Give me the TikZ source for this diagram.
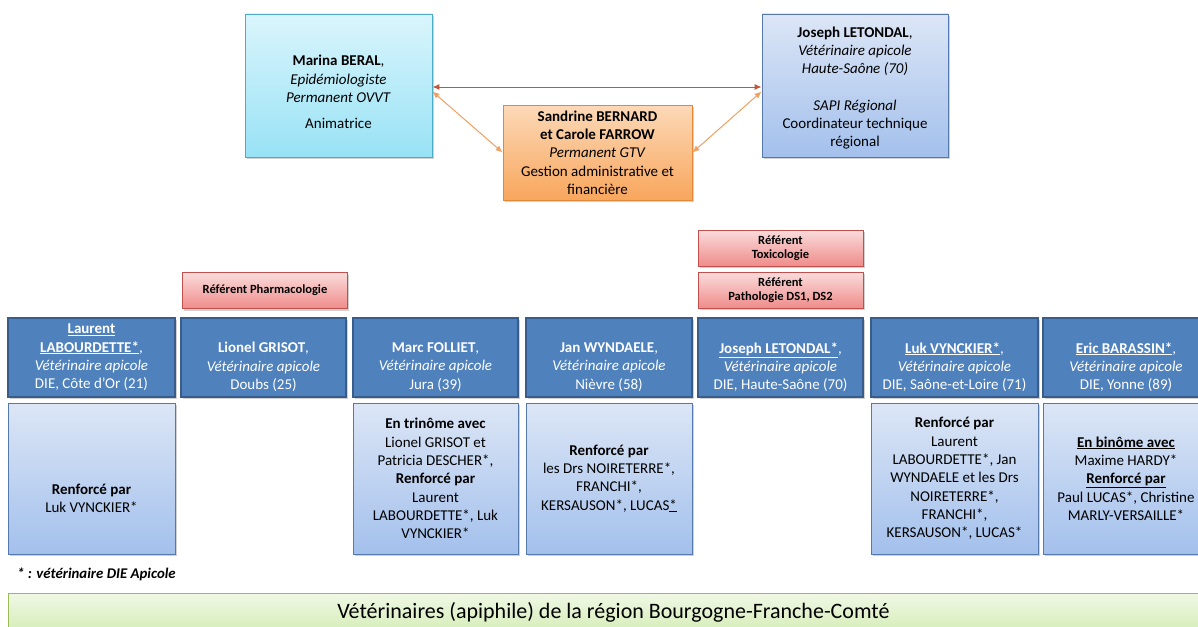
\documentclass[tikz,border=0pt]{standalone}
\usepackage{fontspec}
\setmainfont{Carlito}
\usetikzlibrary{arrows.meta,shadows}
\definecolor{dkblue}{HTML}{4F81BD}
\definecolor{dkline}{HTML}{385D8A}
\definecolor{ltop}{HTML}{DCE6F6}
\definecolor{lbot}{HTML}{A3C0EC}
\definecolor{lline}{HTML}{5579AD}
\definecolor{ctop}{HTML}{DAF5FC}
\definecolor{cbot}{HTML}{98E2F5}
\definecolor{cline}{HTML}{4BACC6}
\definecolor{otop}{HTML}{FCD9B8}
\definecolor{obot}{HTML}{F8A65C}
\definecolor{oline}{HTML}{E0893A}
\definecolor{rtop}{HTML}{FADCDC}
\definecolor{rbot}{HTML}{EF8C8A}
\definecolor{rline}{HTML}{C0504D}
\definecolor{gtop}{HTML}{F0F8E4}
\definecolor{gbot}{HTML}{D5EDB9}
\definecolor{gline}{HTML}{9BBB59}
\definecolor{harrowc}{HTML}{C0573A}
\definecolor{darrowc}{HTML}{F0A060}
\begin{document}
\begin{tikzpicture}[x=1pt,y=-1pt,
  wh/.style 2 args={minimum width=#1pt, minimum height=#2pt},
  boxbase/.style={draw, rectangle, inner sep=0pt, align=center,
    drop shadow={shadow xshift=1.5pt, shadow yshift=-2pt, opacity=0.3, fill=black!60}},
  txt/.style={font=\fontsize{15}{18.3}\selectfont},
  darkbox/.style={boxbase, fill=dkblue, draw=dkline, line width=1.3pt, wh={166}{79}},
  darktext/.style={txt, text=white, align=center, inner sep=0pt},
  lightbox/.style={boxbase, top color=ltop, bottom color=lbot, draw=lline, line width=0.9pt, wh={166}{151}, txt},
  topblue/.style={boxbase, top color=ltop, bottom color=lbot, draw=lline, line width=0.9pt, txt},
  cyanbox/.style={boxbase, top color=ctop, bottom color=cbot, draw=cline, line width=0.9pt, txt},
  orangebox/.style={boxbase, top color=otop, bottom color=obot, draw=oline, line width=0.9pt, txt},
  refbox/.style={boxbase, top color=rtop, bottom color=rbot, draw=rline, line width=0.9pt,
    font=\fontsize{12.5}{14.5}\selectfont\bfseries, wh={165}{36}},
  greenbar/.style={draw=gline, top color=gtop, bottom color=gbot, line width=0.9pt, rectangle, inner sep=0pt,
    font=\fontsize{22}{26}\selectfont},
  harrow/.style={draw=harrowc, line width=1pt, {Latex[length=7pt,width=6pt]}-{Latex[length=7pt,width=6pt]}},
  darrow/.style={draw=darrowc, line width=1pt, {Latex[length=7pt,width=6pt]}-{Latex[length=7pt,width=6pt]}}
]
\useasboundingbox (0,0) rectangle (1198,626);

% top level
\node[cyanbox, wh={187}{143}] (marina) at (338.5,85.5) {};
\node[txt, align=center, inner sep=0pt] (marinaT) at (338.5,92) {\textbf{Marina BERAL},\\\textit{Epidémiologiste}\\\textit{Permanent OVVT}\\[8pt]Animatrice};
\node[orangebox, wh={189}{95}] (sandrine) at (597.5,152.5) {\textbf{Sandrine BERNARD}\\\textbf{et Carole FARROW}\\\textit{Permanent GTV}\\Gestion administrative et\\financière};
\node[topblue, wh={186}{143}] (josephtop) at (855,85.5) {};
\node[txt, align=center, inner sep=0pt] (josephtopT) at (855,88) {\textbf{Joseph LETONDAL},\\\textit{Vétérinaire apicole}\\\textit{Haute-Saône (70)}\\[18.3pt]\textit{SAPI Régional}\\Coordinateur technique\\régional};

\draw[harrow] ([yshift=-1.5pt]marina.east) -- ([yshift=-1.5pt]josephtop.west);
\draw[darrow] ([yshift=-6pt]marina.east) -- (sandrine.west);
\draw[darrow] (sandrine.east) -- ([yshift=-6pt]josephtop.west);

% referents
\node[refbox] (pharma) at (265,290.5) {Référent Pharmacologie};
\node[refbox] (toxi) at (780.5,248) {Référent\\Toxicologie};
\node[refbox] (patho) at (780.5,290) {Référent\\Pathologie DS1, DS2};

% dark row
\node[darkbox, wh={167}{79}] (laurent) at (91.5,357.5) {};
\node[darktext] (laurentT) at (91.5,357.5) {\textbf{\underline{Laurent}}\\\textbf{\underline{LABOURDETTE*}},\\\textit{Vétérinaire apicole}\\DIE, Côte d’Or (21)};
\node[darkbox, wh={165}{79}] (lionel) at (263.5,357.5) {};
\node[darktext] (lionelT) at (263.5,367) {\textbf{Lionel GRISOT},\\\textit{Vétérinaire apicole}\\Doubs (25)};
\node[darkbox, wh={165}{79}] (marc) at (435.5,357.5) {};
\node[darktext] (marcT) at (435.5,367) {\textbf{Marc FOLLIET},\\\textit{Vétérinaire apicole}\\Jura (39)};
\node[darkbox, wh={166}{79}] (jan) at (609,357.5) {};
\node[darktext] (janT) at (609,367) {\textbf{Jan WYNDAELE},\\\textit{Vétérinaire apicole}\\Nièvre (58)};
\node[darkbox, wh={165}{79}] (joseph) at (780.5,357.5) {};
\node[darktext] (josephT) at (780.5,367) {\textbf{\underline{Joseph LETONDAL*}},\\\textit{Vétérinaire apicole}\\DIE, Haute-Saône (70)};
\node[darkbox, wh={167}{79}] (luk) at (954.5,357.5) {};
\node[darktext] (lukT) at (954.5,367) {\textbf{\underline{Luk VYNCKIER*}},\\\textit{Vétérinaire apicole}\\DIE, Saône-et-Loire (71)};
\node[darkbox, wh={166}{79}] (eric) at (1126,357.5) {};
\node[darktext] (ericT) at (1126,367) {\textbf{\underline{Eric BARASSIN*}},\\\textit{Vétérinaire apicole}\\DIE, Yonne (89)};

% light row
\node[lightbox, wh={167}{151}] (laurentL) at (91.5,478.5) {};
\node[txt, align=center, inner sep=0pt] (laurentLT) at (91.5,498.5) {\textbf{Renforcé par}\\Luk VYNCKIER*};
\node[lightbox, wh={165}{151}] (marcL) at (435.5,478.5) {\textbf{En trinôme avec}\\Lionel GRISOT et\\Patricia DESCHER*,\\\textbf{Renforcé par}\\Laurent\\LABOURDETTE*, Luk\\VYNCKIER*};
\node[lightbox] (janL) at (609,478.5) {\textbf{Renforcé par}\\les Drs NOIRETERRE*,\\FRANCHI*,\\KERSAUSON*, LUCAS\underline{*}};
\node[lightbox, wh={167}{151}] (lukL) at (954.5,478.5) {\textbf{Renforcé par}\\Laurent\\LABOURDETTE*, Jan\\WYNDAELE et les Drs\\NOIRETERRE*,\\FRANCHI*,\\KERSAUSON*, LUCAS*};
\node[lightbox] (ericL) at (1126,478.5) {\underline{\textbf{En binôme avec}}\\Maxime HARDY*\\\underline{\textbf{Renforcé par}}\\Paul LUCAS*, Christine\\MARLY-VERSAILLE*};

% footnote and bottom bar
\node[anchor=west, inner sep=0pt, font=\fontsize{14.8}{17}\selectfont\bfseries\itshape] (note) at (17,574) {* : vétérinaire DIE Apicole};
\node[greenbar, anchor=north west, wh={1210}{38}] (region) at (8,593) {Vétérinaires (apiphile) de la région Bourgogne-Franche-Comté};
\end{tikzpicture}
\end{document}
